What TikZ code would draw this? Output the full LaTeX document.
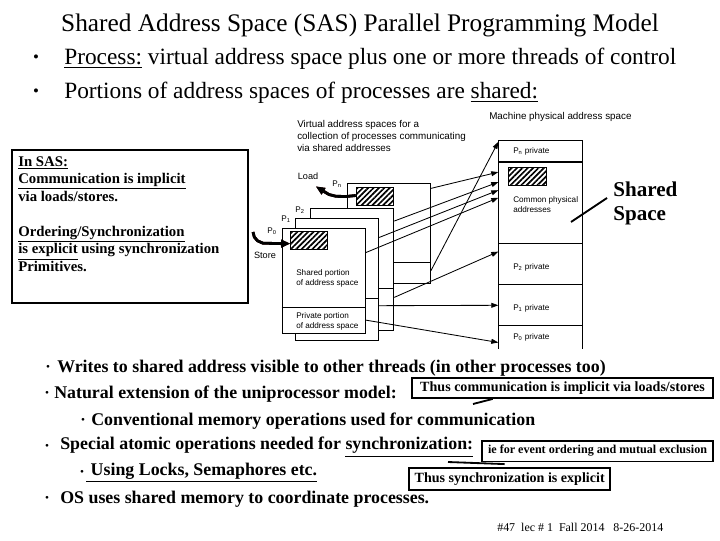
\documentclass[tikz,border=0pt]{standalone}
\usepackage{fontspec}
\setmainfont{Liberation Serif}
\setsansfont{Liberation Sans}
\usetikzlibrary{arrows.meta,calc,patterns.meta}
\definecolor{ink}{rgb}{0.25,0,0}

\begin{document}
\begin{tikzpicture}[x=0.025cm, y=-0.025cm,
  title/.style={inner sep=0, font=\fontsize{18}{20}\selectfont},
  dot/.style={inner sep=0},
  bul/.style={anchor=west, inner sep=0, font=\fontsize{16.6}{19}\selectfont},
  pts/.style={anchor=west, inner sep=0, font=\bfseries\fontsize{12.7}{15}\selectfont},
  lbl/.style={inner sep=0, align=left, font=\sffamily\fontsize{5.8}{7}\selectfont},
  sasbox/.style={draw, line width=1.4pt, anchor=north west, inner sep=0, minimum width=5.9cm, minimum height=3.825cm},
  sastxt/.style={anchor=north west, inner sep=0, align=left, font=\bfseries\fontsize{10.5}{12.5}\selectfont},
  proc/.style={draw, fill=white, line width=0.7pt, inner sep=0, anchor=north west, minimum width=2.08cm},
  blk/.style={inner sep=0, anchor=north west, minimum width=2.1cm},
  hatchbox/.style={draw, line width=0.7pt, inner sep=0, anchor=north west, minimum width=0.93cm, minimum height=0.45cm,
    pattern={Lines[angle=45, distance=2.7pt, line width=1.2pt]}},
  wire/.style={line width=0.7pt},
  map/.style={-{Triangle[length=5pt,width=3.5pt]}, line width=0.6pt},
  thickline/.style={line width=2pt, line join=round},
  note/.style={draw, line width=1.3pt, inner sep=0, font=\bfseries\fontsize{10}{12}\selectfont},
  ptr/.style={line width=1.3pt}]
\useasboundingbox (0,0) rectangle (720,540);
% heading
\node[title] (title) at (360,25) {Shared Address Space (SAS) Parallel Programming Model};
\node[dot] (d1) at (36,59) {\fontsize{12}{12}\selectfont\textbullet};
\node[bul] (b1) at (64,59) {\underline{Process:} virtual address space plus one or more threads of control};
\node[dot] (d2) at (36,93) {\fontsize{12}{12}\selectfont\textbullet};
\node[bul] (b2) at (64,93) {Portions of address spaces of processes are \underline{shared:}};
% SAS box
\node[sasbox] (sas) at (10.7,149) {};
\node[sastxt] (sastext) at (18,156) {\underline{In SAS:}\\ \underline{Communication is implicit}\\ via loads/stores.\\[12.5pt]
  \underline{Ordering/Synchronization}\\ \underline{is explicit} using synchronization\\ Primitives.};
% virtual address spaces
\node[lbl, anchor=west, font=\sffamily\fontsize{7}{8.2}\selectfont] (virt) at (297,136) {Virtual address spaces for a\\collection of processes communicating\\via shared addresses};
\foreach \p/\x/\y/\h in {pn/346.7/182.7/2.515, p2/310/208.3/3.043, p1/295/218.3/3.043, p0/281.7/227.7/2.64} {
  \node[proc, minimum height=\h cm] (\p) at (\x,\y) {};
  \draw[wire] ($(\p.north west)+(0,80)$) -- ($(\p.north east)+(0,80)$);
}
% load and store arrows
\coordinate (loadstart) at (355.7,195.5);
\coordinate (loadtip) at (316,186.5);
\coordinate (storetail) at (253,232);
\coordinate (storetip) at (290,243.6);
\foreach \c in {ink,black} {
  \draw[thickline, draw=\c] (loadstart) -- (346,196.5) -- (336,196.3) -- (329,194.5) -- ([shift={(7.6,4.8)}]loadtip);
  \fill[\c] (loadtip) -- ++(9.7,1.4) -- ++(-4.2,6.8) -- cycle;
  \draw[thickline, draw=\c] (storetail) -- (254.3,237) -- (257.5,240.8) -- (263,243.2) -- ([shift={(-9,0)}]storetip);
  \fill[\c] (storetip) -- ++(-9,-4.2) -- ++(0,8.4) -- cycle;
}
\node[hatchbox] (hatchn) at (355.7,186.7) {};
\node[hatchbox] (hatch0) at (290,231) {};
\node[lbl, anchor=west] (shport) at (296,278) {Shared portion\\of address space};
\node[lbl, anchor=west] (prport) at (296,321) {Private portion\\of address space};
\node[lbl] (lpn) at (337,184) {P\textsubscript{n}};
\node[lbl] (lp2) at (300,210) {P\textsubscript{2}};
\node[lbl] (lp1) at (286,219) {P\textsubscript{1}};
\node[lbl] (lp0) at (272,231) {P\textsubscript{0}};
\node[lbl, font=\sffamily\fontsize{6.5}{7}\selectfont] (load) at (308,176) {Load};
\node[lbl, font=\sffamily\fontsize{6.5}{7}\selectfont] (store) at (265,255) {Store};
% machine physical address space
\node[lbl, anchor=west, font=\sffamily\fontsize{7}{8}\selectfont] (mach) at (489,117) {Machine physical address space};
\node[blk, minimum height=0.54cm] (ppn) at (498.3,140.7) {};
\node[blk, minimum height=2.025cm] (pcom) at (498.3,162.3) {};
\node[blk, minimum height=1.025cm] (pp2) at (498.3,243.3) {};
\node[blk, minimum height=1.035cm] (pp1) at (498.3,284.3) {};
\node[blk, minimum height=0.56cm] (pp0) at (498.3,325.7) {};
\draw[wire] (pp0.south west) -- (ppn.north west) -- (ppn.north east) -- (pp0.south east);
\draw[line width=1.6pt] (pcom.north west) -- (pcom.north east);
\foreach \b in {pp2,pp1,pp0} \draw[wire] (\b.north west) -- (\b.north east);
\node[hatchbox] (hatchp) at (508.3,167.3) {};
\node[lbl, anchor=west] (lppn) at (513,151) {P\textsubscript{n} private};
\node[lbl, anchor=west] (lcom) at (513,205) {Common physical\\addresses};
\node[lbl, anchor=west] (lpp2) at (513,267) {P\textsubscript{2} private};
\node[lbl, anchor=west] (lpp1) at (513,308) {P\textsubscript{1} private};
\node[lbl, anchor=west] (lpp0) at (513,337) {P\textsubscript{0} private};
\node[anchor=west, inner sep=0, align=left, font=\bfseries\fontsize{15}{17}\selectfont] (shlbl) at (613,203) {Shared\\Space};
\coordinate (shtip) at (571,222);
\draw[ptr] ([shift={(-6,-5)}]shlbl.west) -- (shtip);
% mappings
\foreach \s/\a/\t/\b in {pn/.056/pcom/.12, p2/.104/pcom/.243, p1/.156/pcom/.342, p0/.233/pcom/.435,
  pn/.866/ppn/.05, p2/.726/pp2/.2, p1/.712/pp1/.5, p0/.867/pp0/.73}
  \draw[map] ($(\s.north east)!\a!(\s.south east)$) -- ($(\t.north west)!\b!(\t.south west)$);
% points
\node[dot] (w1) at (48,368) {\fontsize{8}{8}\selectfont\textbullet};
\node[pts] (t1) at (57,368) {Writes to shared address visible to other threads (in other processes too)};
\node[dot] (w2) at (47,394) {\fontsize{8}{8}\selectfont\textbullet};
\node[pts] (t2) at (54,394) {Natural extension of the uniprocessor model:};
\node[dot] (w3) at (83,421) {\fontsize{8}{8}\selectfont\textbullet};
\node[pts] (t3) at (91,421) {Conventional memory operations used for communication};
\node[dot] (w4) at (47,447) {\fontsize{8}{8}\selectfont\textbullet};
\node[pts] (t4) at (60,447) {Special atomic operations needed for \underline{synchronization:}};
\node[dot] (w5) at (82,473) {\fontsize{8}{8}\selectfont\textbullet};
\node[pts] (t5) at (86,473) {\underline{\ Using Locks, Semaphores etc.}};
\node[dot] (w6) at (47,499) {\fontsize{8}{8}\selectfont\textbullet};
\node[pts] (t6) at (60,499) {OS uses shared memory to coordinate processes.};
% notes
\node[note, minimum width=7.54cm, minimum height=0.5cm] (commbox) at (562.5,388) {Thus communication is implicit via loads/stores};
\node[note, minimum width=5.79cm, minimum height=0.52cm, font=\bfseries\fontsize{8.6}{10}\selectfont] (iebox) at (597.5,451) {ie for event ordering and mutual exclusion};
\node[note, minimum width=5.02cm, minimum height=0.55cm] (syncbox) at (509.7,479) {Thus synchronization is explicit};
\coordinate (commtip) at (473,404);
\coordinate (synctail) at (448,462);
\draw[ptr] ($(commbox.south west)!.27!(commbox.south east)$) -- (commtip);
\draw[ptr] (synctail) -- ([shift={(-5,-3)}]syncbox.north);
% footer
\node[anchor=west, inner sep=0, font=\fontsize{8.5}{10}\selectfont] (foot) at (497,527) {\#47\ \ lec \# 1\ \ Fall 2014\ \ \ 8-26-2014};
\end{tikzpicture}
\end{document}
